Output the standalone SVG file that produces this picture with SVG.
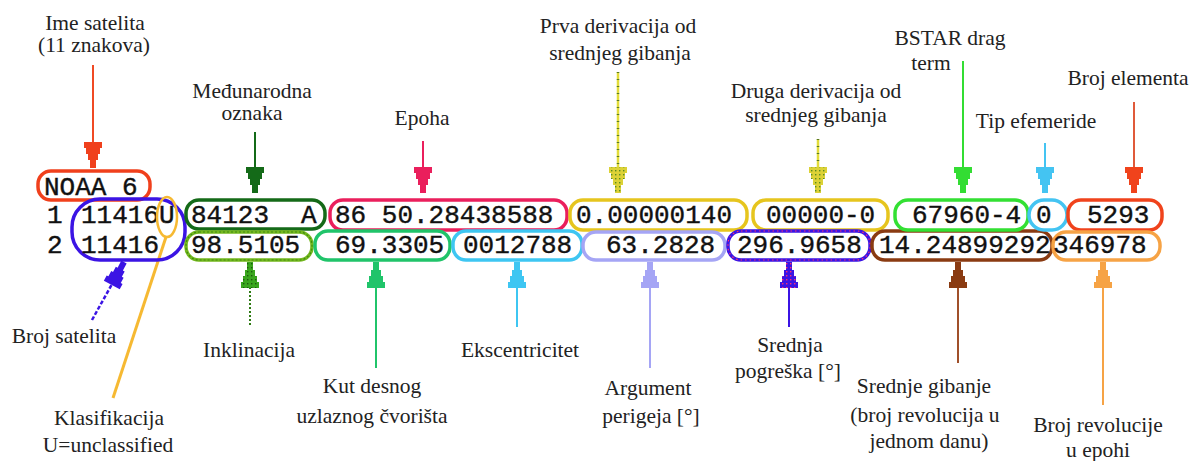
<svg xmlns="http://www.w3.org/2000/svg" width="1201" height="461" viewBox="0 0 1201 461">
<style>
.v{font-family:"Liberation Mono","Courier New",monospace;font-size:26px;fill:#111;stroke:#111;stroke-width:0.4}
.l{font-family:"Liberation Serif","Times New Roman",serif;font-size:21.5px;fill:#222;text-anchor:middle}
.b{fill:none;stroke-width:3.5}
.c{fill:none;stroke-width:2}
</style>
<defs>
<path id="hd" d="M-9,-26H9V-20H7V-14H5V-8H3V0H-3V-8H-5V-14H-7V-20H-9Z"/>
<path id="hu" d="M-9,26H9V20H7V14H5V8H3V0H-3V8H-5V14H-7V20H-9Z"/>
<pattern id="dotY" width="4" height="4" patternUnits="userSpaceOnUse"><rect width="4" height="4" fill="#dcd236"/><rect x="1" y="1" width="1.4" height="1.4" fill="#5a8a20"/></pattern>
<pattern id="dotG" width="4" height="4" patternUnits="userSpaceOnUse"><rect width="4" height="4" fill="#3aa61e"/><rect x="1" y="1" width="1.4" height="1.4" fill="#1c5a0c"/></pattern>
<pattern id="dotB" width="4" height="4" patternUnits="userSpaceOnUse"><rect width="4" height="4" fill="#3b14e4"/><rect x="1" y="1" width="1.4" height="1.4" fill="#ff3070"/></pattern>
</defs>
<rect width="1201" height="461" fill="#fff"/>

<g id="connectors">
  <line class="c" x1="93" y1="65" x2="93" y2="144" stroke="#f04a24"/>
  <use href="#hd" x="93" y="168" fill="#f0401c"/>
  <line class="c" x1="255" y1="132" x2="255" y2="168" stroke="#146a18"/>
  <use href="#hd" x="255" y="193" fill="#146a18"/>
  <line class="c" x1="423" y1="141" x2="423" y2="168" stroke="#ea1f5c"/>
  <use href="#hd" x="423" y="193" fill="#ea1f5c"/>
  <line x1="618" y1="72" x2="618" y2="168" stroke="#e2dc3a" stroke-width="2.5"/>
  <line x1="618" y1="72" x2="618" y2="168" stroke="#5a7a20" stroke-width="2.5" stroke-dasharray="1 6"/>
  <use href="#hd" x="618" y="193" fill="url(#dotY)"/>
  <line x1="818" y1="139" x2="818" y2="168" stroke="#e2dc3a" stroke-width="2.5"/>
  <line x1="818" y1="139" x2="818" y2="168" stroke="#5a7a20" stroke-width="2.5" stroke-dasharray="1 6"/>
  <use href="#hd" x="818" y="193" fill="url(#dotY)"/>
  <line class="c" x1="963" y1="61" x2="963" y2="168" stroke="#33dd33"/>
  <use href="#hd" x="963" y="193" fill="#33dd33"/>
  <line class="c" x1="1045" y1="143" x2="1045" y2="168" stroke="#44c4f2"/>
  <use href="#hd" x="1045" y="193" fill="#44c4f2"/>
  <line class="c" x1="1134" y1="102" x2="1134" y2="168" stroke="#e05a3a"/>
  <use href="#hd" x="1134" y="193" fill="#f0431c"/>

  <line x1="92" y1="320" x2="112" y2="284" stroke="#3b14e4" stroke-width="2.5" stroke-dasharray="4 2"/>
  <use href="#hu" transform="translate(124,262) rotate(28)" fill="#3b14e4"/>
  <line x1="166" y1="237" x2="113" y2="398" stroke="#f6b932" stroke-width="3"/>
  <line x1="250" y1="287" x2="250" y2="327" stroke="#2f7a14" stroke-width="2" stroke-dasharray="2 2"/>
  <use href="#hu" x="250" y="262" fill="url(#dotG)"/>
  <line class="c" x1="376" y1="287" x2="376" y2="368" stroke="#20c46a"/>
  <use href="#hu" x="376" y="262" fill="#20c46a"/>
  <line class="c" x1="517" y1="287" x2="517" y2="327" stroke="#3ec6f2"/>
  <use href="#hu" x="517" y="262" fill="#3ec6f2"/>
  <line class="c" x1="650" y1="287" x2="650" y2="368" stroke="#a5a5f5"/>
  <use href="#hu" x="650" y="262" fill="#a5a5f5"/>
  <line class="c" x1="789" y1="287" x2="789" y2="327" stroke="#3b14e4"/>
  <use href="#hu" x="789" y="262" fill="url(#dotB)"/>
  <line class="c" x1="958" y1="287" x2="958" y2="363" stroke="#a0502a" stroke-width="1.8"/>
  <use href="#hu" x="958" y="262" fill="#8a3b12"/>
  <line class="c" x1="1103" y1="287" x2="1103" y2="405" stroke="#f6a345"/>
  <use href="#hu" x="1103" y="262" fill="#f6a345"/>
</g>

<g id="row-numbers">
  <text class="v" x="47" y="223">1</text>
  <text class="v" x="47" y="253">2</text>
</g>

<g id="ime-satelita">
  <rect class="b" x="38" y="171" width="112" height="29" rx="13" stroke="#f0401c"/>
  <text class="v" x="44" y="195">NOAA 6</text>
  <text class="l" x="95" y="30">Ime satelita</text>
  <text class="l" x="94" y="52">(11 znakova)</text>
</g>

<g id="broj-satelita">
  <rect class="b" x="72" y="199" width="113" height="61" rx="28" stroke="#3b14e4"/>
  <text class="v" x="81" y="223">11416U</text>
  <text class="v" x="81" y="253">11416</text>
  <text class="l" x="64" y="343">Broj satelita</text>
</g>

<g id="klasifikacija">
  <ellipse cx="167" cy="217" rx="10" ry="20" fill="none" stroke="#f6b932" stroke-width="2.5"/>
  <text class="l" x="109" y="425">Klasifikacija</text>
  <text class="l" x="108" y="452">U=unclassified</text>
</g>

<g id="medunarodna-oznaka">
  <rect class="b" x="186" y="200" width="139" height="29" rx="13" stroke="#146a18"/>
  <text class="v" x="191" y="223">84123</text>
  <text class="v" x="301" y="223">A</text>
  <text class="l" x="252" y="98">Međunarodna</text>
  <text class="l" x="252" y="120">oznaka</text>
</g>

<g id="inklinacija">
  <rect class="b" x="186" y="232" width="126" height="28" rx="13" stroke="#74b81e"/>
  <rect x="186" y="232" width="126" height="28" rx="13" fill="none" stroke="#3e8a10" stroke-width="1.2" stroke-dasharray="2 2"/>
  <text class="v" x="191" y="253">98.5105</text>
  <text class="l" x="249" y="357">Inklinacija</text>
</g>

<g id="epoha">
  <rect class="b" x="330" y="200" width="237" height="30" rx="13" stroke="#ea1f5c"/>
  <text class="v" x="335" y="223">86 50.28438588</text>
  <text class="l" x="422" y="125">Epoha</text>
</g>

<g id="kut-cvorista">
  <rect class="b" x="315" y="231" width="135" height="29" rx="13" stroke="#20c46a"/>
  <text class="v" x="335" y="253">69.3305</text>
  <text class="l" x="372" y="393">Kut desnog</text>
  <text class="l" x="372" y="423">uzlaznog čvorišta</text>
</g>

<g id="ekscentricitet">
  <rect class="b" x="453" y="231" width="129" height="29" rx="13" stroke="#3ec6f2"/>
  <text class="v" x="463" y="253">0012788</text>
  <text class="l" x="520" y="357">Ekscentricitet</text>
</g>

<g id="prva-derivacija">
  <rect class="b" x="570" y="200" width="177" height="30" rx="13" stroke="#e6c51e"/>
  <text class="v" x="576" y="223">0.00000140</text>
  <text class="l" x="618" y="33">Prva derivacija od</text>
  <text class="l" x="620" y="60">srednjeg gibanja</text>
</g>

<g id="argument-perigeja">
  <rect class="b" x="583" y="232" width="142" height="28" rx="13" stroke="#a5a5f5"/>
  <text class="v" x="606" y="253">63.2828</text>
  <text class="l" x="648" y="395">Argument</text>
  <text class="l" x="651" y="423">perigeja [°]</text>
</g>

<g id="druga-derivacija">
  <rect class="b" x="753" y="200" width="135" height="30" rx="13" stroke="#e6c51e"/>
  <text class="v" x="766" y="223">00000-0</text>
  <text class="l" x="816" y="98">Druga derivacija od</text>
  <text class="l" x="816" y="122">srednjeg gibanja</text>
</g>

<g id="srednja-pogreska">
  <rect class="b" x="728" y="231" width="142" height="29" rx="13" stroke="#3b14e4"/>
  <rect x="728" y="231" width="142" height="29" rx="13" fill="none" stroke="#ff3070" stroke-width="1.2" stroke-dasharray="1.5 3"/>
  <text class="v" x="737" y="253">296.9658</text>
  <text class="l" x="790" y="352">Srednja</text>
  <text class="l" x="788" y="378">pogreška [°]</text>
</g>

<g id="srednje-gibanje">
  <rect class="b" x="872" y="231" width="180" height="29" rx="13" stroke="#8a3b12"/>
  <text class="v" x="879" y="253">14.24899292</text>
  <text class="l" x="924" y="393">Srednje gibanje</text>
  <text class="l" x="925" y="422">(broj revolucija u</text>
  <text class="l" x="929" y="448">jednom danu)</text>
</g>

<g id="bstar">
  <rect class="b" x="895" y="200" width="133" height="30" rx="13" stroke="#33e033"/>
  <text class="v" x="912" y="223">67960-4</text>
  <text class="l" x="950" y="45">BSTAR drag</text>
  <text class="l" x="931" y="70">term</text>
</g>

<g id="tip-efemeride">
  <rect class="b" x="1029" y="200" width="38" height="30" rx="15" stroke="#44c4f2"/>
  <text class="v" x="1036" y="223">0</text>
  <text class="l" x="1036" y="128">Tip efemeride</text>
</g>

<g id="broj-elementa">
  <rect class="b" x="1068" y="200" width="94" height="30" rx="13" stroke="#f0431c"/>
  <text class="v" x="1087" y="223">5293</text>
  <text class="l" x="1128" y="85">Broj elementa</text>
</g>

<g id="broj-revolucije">
  <rect class="b" x="1053" y="232" width="107" height="28" rx="13" stroke="#f6a345"/>
  <text class="v" x="1053" y="253">346978</text>
  <text class="l" x="1098" y="432">Broj revolucije</text>
  <text class="l" x="1098" y="457">u epohi</text>
</g>
</svg>
